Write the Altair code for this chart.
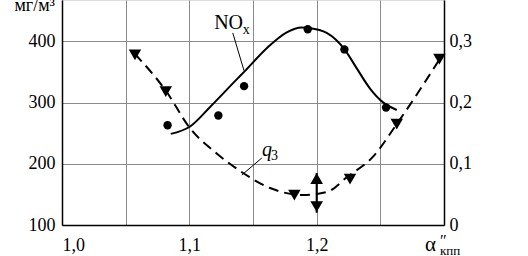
import altair as alt
import pandas as pd

# NOx (left axis, mg/m3)
nox_pts_x = [1.0829, 1.1228, 1.1430, 1.1930, 1.2218, 1.2545]
nox_pts_y = [263, 279, 327, 420, 387, 292]
nox_curve_x = [1.0854, 1.1006, 1.1163, 1.1372, 1.1438, 1.1608, 1.1765, 1.1880, 1.1940, 1.2079, 1.2223, 1.2315, 1.2419, 1.2524, 1.2629]
nox_curve_y = [249, 261, 293, 338, 352, 389, 415, 423, 422, 414, 386, 356, 323, 300, 288]

# q3 (right axis)
q3_pts_x = [1.0573, 1.0815, 1.1825, 1.2262, 1.2629, 1.2964]
q3_pts_y = [0.278, 0.218, 0.049, 0.075, 0.165, 0.271]
q3_curve_x = [1.0573, 1.0817, 1.1006, 1.1215, 1.1422, 1.1634, 1.1893, 1.2082, 1.2239, 1.2443, 1.2629, 1.2977]
q3_curve_y = [0.2795, 0.219, 0.158, 0.117, 0.085, 0.0605, 0.049, 0.054, 0.0785, 0.1117, 0.165, 0.2746]
q3_range_x = 1.2
q3_range = [0.020, 0.085]

FONT = "Liberation Serif"
YMAX = 467.8
Q3MAX = (YMAX - 100) / 1000

xscale = alt.Scale(domain=[1.0, 1.3], nice=False, zero=False)
yscale = alt.Scale(domain=[100, YMAX], nice=False, zero=False)
qscale = alt.Scale(domain=[0, Q3MAX], nice=False, zero=False)

xaxis = alt.Axis(values=[1.0, 1.05, 1.1, 1.15, 1.2, 1.25, 1.3], grid=True, gridColor="#8a8a8a",
                 gridWidth=1, ticks=False, domainColor="black", domainWidth=1.5,
                 labelExpr="(abs(datum.value*10 - round(datum.value*10)) < 0.001 && datum.value < 1.29) ? replace(format(datum.value, '.1f'), '.', ',') : ''",
                 labelFont=FONT, labelFontSize=18, labelColor="black", labelPadding=11, title=None)
yaxis = alt.Axis(values=[100, 200, 300, 400], grid=True, gridColor="#8a8a8a", gridWidth=1,
                 ticks=False, domainColor="black", domainWidth=1.5, format="d",
                 labelFont=FONT, labelFontSize=18, labelColor="black", labelPadding=7, title=None)
qaxis = alt.Axis(orient="right", values=[0, 0.1, 0.2, 0.3], grid=False, ticks=False,
                 domainColor="black", domainWidth=1.5,
                 labelExpr="datum.value == 0 ? '0' : replace(format(datum.value, '.1f'), '.', ',')",
                 labelFont=FONT, labelFontSize=18, labelColor="black", labelPadding=5, title=None)

nox_curve = pd.DataFrame({"x": nox_curve_x, "y": nox_curve_y})
nox_pts = pd.DataFrame({"x": nox_pts_x, "y": nox_pts_y})
q3_curve = pd.DataFrame({"x": q3_curve_x, "q": q3_curve_y})
q3_pts = pd.DataFrame({"x": q3_pts_x, "q": q3_pts_y})
q3_rng = pd.DataFrame({"x": [q3_range_x], "q": [q3_range[0]], "hi": [q3_range[1]]})
arrow_heads = pd.DataFrame({"x": [q3_range_x, q3_range_x], "q": [0.076, 0.030],
                            "shape": ["triangle-up", "triangle-down"]})

# annotation leaders
nox_leader = pd.DataFrame({"x": [1.1341, 1.1430], "y": [414, 352]})
q3_leader = pd.DataFrame({"x": [1.1569, 1.1412], "q": [0.1095, 0.0817]})

X = alt.X("x:Q", scale=xscale, axis=xaxis)
Y = alt.Y("y:Q", scale=yscale, axis=yaxis)
Q = alt.Y("q:Q", scale=qscale, axis=qaxis)

left_line = alt.Chart(nox_curve).mark_line(color="black", strokeWidth=2, interpolate="monotone").encode(x=X, y=Y)
left_pts = alt.Chart(nox_pts).mark_point(filled=True, color="black", size=70, opacity=1).encode(x=X, y=Y)
left_leader = alt.Chart(nox_leader).mark_line(color="black", strokeWidth=1).encode(x=X, y=Y)
nox_lbl = alt.Chart(pd.DataFrame({"x": [1.1195], "y": [431], "t": ["NO"]})).mark_text(
    font=FONT, fontSize=20, color="black", align="left", baseline="middle").encode(x=X, y=Y, text="t:N")
nox_sub = alt.Chart(pd.DataFrame({"x": [1.1420], "y": [419], "t": ["x"]})).mark_text(
    font=FONT, fontSize=14, color="black", align="left", baseline="middle").encode(x=X, y=Y, text="t:N")
unit_lbl = alt.Chart(pd.DataFrame({"t": ["мг/м³"]})).mark_text(
    font=FONT, fontSize=18, color="black", align="right", baseline="alphabetic").encode(
    x=alt.value(-7), y=alt.value(11), text="t:N")
ax_a = alt.Chart(pd.DataFrame({"t": ["α"]})).mark_text(
    font=FONT, fontSize=21, color="black", align="left", baseline="alphabetic").encode(
    x=alt.value(363), y=alt.value(251), text="t:N")
ax_pp = alt.Chart(pd.DataFrame({"t": ["″"]})).mark_text(
    font=FONT, fontSize=16, color="black", align="left", baseline="alphabetic").encode(
    x=alt.value(378), y=alt.value(246), text="t:N")
ax_sub = alt.Chart(pd.DataFrame({"t": ["кпп"]})).mark_text(
    font=FONT, fontSize=13, color="black", align="left", baseline="alphabetic").encode(
    x=alt.value(378), y=alt.value(255), text="t:N")

left = alt.layer(left_line, left_pts, left_leader, nox_lbl, nox_sub, unit_lbl, ax_a, ax_pp, ax_sub)

right_line = alt.Chart(q3_curve).mark_line(color="black", strokeWidth=2, strokeDash=[10, 6],
                                           interpolate="monotone").encode(x=X, y=Q)
right_pts = alt.Chart(q3_pts).mark_point(filled=True, color="black", shape="triangle-down",
                                         size=155, opacity=1).encode(x=X, y=Q)
rng_rule = alt.Chart(q3_rng).mark_rule(color="black", strokeWidth=2).encode(x=X, y=Q, y2="hi:Q")
heads = alt.Chart(arrow_heads).mark_point(filled=True, color="black", size=160, opacity=1).encode(
    x=X, y=Q, shape=alt.Shape("shape:N", scale=None, legend=None))
right_leader = alt.Chart(q3_leader).mark_line(color="black", strokeWidth=1).encode(x=X, y=Q)
q_lbl = alt.Chart(pd.DataFrame({"x": [1.1570], "q": [0.122], "t": ["q"]})).mark_text(
    font=FONT, fontSize=20, fontStyle="italic", color="black", align="left", baseline="middle").encode(
    x=X, y=Q, text="t:N")
q_sub = alt.Chart(pd.DataFrame({"x": [1.1642], "q": [0.113], "t": ["3"]})).mark_text(
    font=FONT, fontSize=14, color="black", align="left", baseline="middle").encode(
    x=X, y=Q, text="t:N")

right = alt.layer(right_line, right_pts, rng_rule, heads, right_leader, q_lbl, q_sub)

chart = alt.layer(left, right).resolve_scale(y="independent").properties(
    width=382, height=225, autosize="none",
    padding={"left": 62, "top": 0, "right": 84, "bottom": 31},
).configure_view(stroke=None).configure(background="white")

chart.save("out.html", embed_options={"renderer": "svg", "actions": False})
